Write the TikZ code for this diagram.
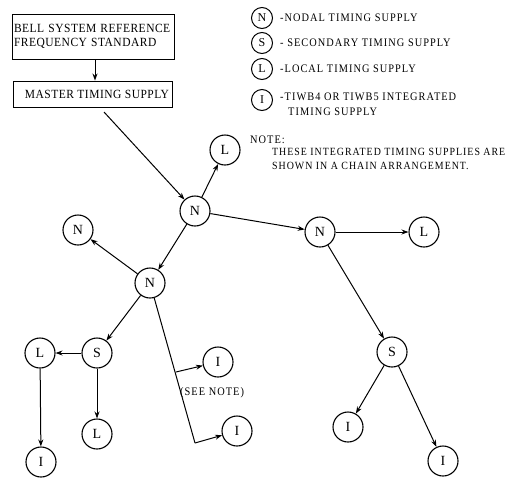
\documentclass[tikz,border=0pt]{standalone}
\usepackage{fontspec}
\setmainfont{Liberation Serif}
\newfontfamily\lblfont[FakeStretch=0.9, LetterSpace=9]{Liberation Serif}
\newfontfamily\boxfont[FakeStretch=0.92, LetterSpace=4]{Liberation Serif}
\usetikzlibrary{arrows.meta}
\tikzset{
  unit/.style={circle, draw, line width=1.1pt, minimum size=30pt, inner sep=0pt, font=\fontsize{14}{14}\selectfont},
  key/.style={circle, draw, line width=1pt, minimum size=21pt, inner sep=0pt, font=\fontsize{12}{12}\selectfont},
  block/.style={draw, line width=0.9pt, inner sep=0pt, font=\boxfont\fontsize{12.5}{14}\selectfont},
  caption/.style={inner sep=0pt, font=\lblfont\fontsize{11.5}{15}\selectfont},
  feed/.style={line width=1pt, -{Stealth[length=7pt,width=5pt]}},
  link/.style={line width=1pt}
}
\begin{document}
\begin{tikzpicture}[x=1pt,y=-1pt]
\useasboundingbox (0,0) rectangle (532,477);

% reference and master supplies
\node[block, minimum width=162pt, minimum height=45pt, align=left, text width=158pt] (ref) at (93,36.5)
  {BELL SYSTEM REFERENCE\\FREQUENCY STANDARD};
\node[block, minimum width=159pt, minimum height=26pt] (mts) at (92.5,94) {\hspace*{9pt}MASTER TIMING SUPPLY};
\draw[feed] (ref.south -| 95,0) -- (mts.north -| 95,0);

% timing network
\node[unit] (n1) at (195,211) {N};
\node[unit] (l1) at (225,150) {L};
\node[unit] (n2) at (78,230) {N};
\node[unit] (n3) at (150,283) {N};
\node[unit] (n4) at (320,232) {N};
\node[unit] (l2) at (424,232) {L};
\node[unit] (s2) at (392,352) {S};
\node[unit] (i3) at (348,427) {I};
\node[unit] (i4) at (443,461) {I};
\node[unit] (s1) at (97,353) {S};
\node[unit] (l3) at (40,353) {L};
\node[unit] (l4) at (97,434) {L};
\node[unit] (i5) at (41,462) {I};
\node[unit] (i1) at (218,362) {I};
\node[unit] (i2) at (237,431) {I};

\coordinate (m0) at (104,112);
\draw[feed] (m0) -- (n1);
\draw[feed] (n1) -- (l1);
\draw[feed] (n1) -- (n3);
\draw[feed] (n1) -- (n4);
\draw[feed] (n3) -- (n2);
\draw[feed] (n3) -- (s1);
\draw[feed] (n4) -- (l2);
\draw[feed] (n4) -- (s2);
\draw[feed] (s2) -- (i3);
\draw[feed] (s2) -- (i4);
\draw[feed] (s1) -- (l3);
\draw[feed] (s1) -- (l4);
\draw[feed] (l3) -- (i5);

% integrated supplies in a chain
\coordinate (c2) at (195,443);
\coordinate (c1) at (176,372);
\draw[link] (n3) -- (c2);
\draw[feed] (c1) -- (i1);
\draw[feed] (c2) -- (i2);
\node[caption, anchor=west] (see) at (180,393) {(SEE NOTE)};

% legend
\node[key] (kn) at (262,18) {N};
\node[key] (ks) at (262,43) {S};
\node[key] (kl) at (262,69) {L};
\node[key] (ki) at (262,100) {I};
\node[caption, anchor=west] (tn) at (280,18) {-NODAL TIMING SUPPLY};
\node[caption, anchor=west] (ts) at (280,43) {- SECONDARY TIMING SUPPLY};
\node[caption, anchor=west] (tl) at (280,69) {-LOCAL TIMING SUPPLY};
\node[caption, anchor=north west, align=left] (ti) at (280,93) {-TIWB4 OR TIWB5 INTEGRATED\\\hspace*{8pt}TIMING SUPPLY};
\node[caption, anchor=west] (note) at (250,140) {NOTE:};
\node[caption, anchor=north west, align=left, font=\lblfont\fontsize{11}{14}\selectfont] (notetext) at (272,148)
  {THESE INTEGRATED TIMING SUPPLIES ARE\\SHOWN IN A CHAIN ARRANGEMENT.};
\end{tikzpicture}
\end{document}
